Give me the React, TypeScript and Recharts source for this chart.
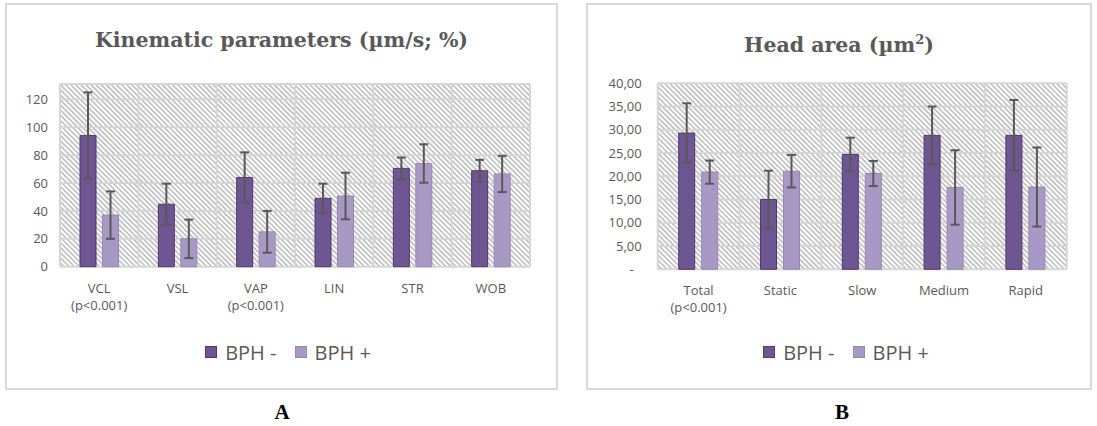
import { BarChart, Bar, XAxis, YAxis, CartesianGrid, ErrorBar, ReferenceLine } from 'recharts';

// panel A: kinematic parameters (mean ± sd)
const kinCats = ['VCL', 'VSL', 'VAP', 'LIN', 'STR', 'WOB'];
const kinNotes = ['(p<0.001)', '', '(p<0.001)', '', '', ''];
const kinNeg = [94, 44.8, 64, 49, 70.5, 68.8];
const kinNegSd = [31, 14.7, 18, 10.5, 7.8, 7.8];
const kinPos = [37, 20, 25, 50.7, 74, 66.5];
const kinPosSd = [17, 13.8, 15, 16.7, 13.8, 13];
const kinTicks = [0, 20, 40, 60, 80, 100, 120];

// panel B: head area (mean ± sd)
const headCats = ['Total', 'Static', 'Slow', 'Medium', 'Rapid'];
const headNotes = ['(p<0.001)', '', '', '', ''];
const headNeg = [29.3, 15, 24.7, 28.8, 28.8];
const headNegSd = [6.4, 6.2, 3.6, 6.2, 7.6];
const headPos = [20.9, 21.1, 20.6, 17.6, 17.7];
const headPosSd = [2.5, 3.5, 2.7, 8, 8.5];
const headTicks = [0, 5, 10, 15, 20, 25, 30, 35, 40];

const seriesNames = ['BPH -', 'BPH +'];

const GREY = '#595959';
const GRID = '#d6d6d6';
const DARK = '#6f5592';
const DARK_EDGE = '#4e3a70';
const LIGHT = '#a899c4';
const LIGHT_EDGE = '#9886b8';
const SANS = '"Open Sans", sans-serif';

function rows(cats: string[], notes: string[], neg: number[], negSd: number[], pos: number[], posSd: number[]) {
  return cats.map((c, i) => ({ name: c, note: notes[i], neg: neg[i], negSd: negSd[i], pos: pos[i], posSd: posSd[i] }));
}

const kinData = rows(kinCats, kinNotes, kinNeg, kinNegSd, kinPos, kinPosSd);
const headData = rows(headCats, headNotes, headNeg, headNegSd, headPos, headPosSd);

function CatTick(props: any) {
  const { x, y, payload, notes } = props;
  const note = notes[payload.index];
  return (
    <g>
      <text x={x} y={y + 26} textAnchor="middle" fill={GREY} fontSize={13} fontFamily={SANS}>
        {payload.value}
      </text>
      {note ? (
        <text x={x} y={y + 43} textAnchor="middle" fill={GREY} fontSize={13} fontFamily={SANS}>
          {note}
        </text>
      ) : null}
    </g>
  );
}

function HeadYTick(props: any) {
  const { x, y, payload } = props;
  const v = payload.value;
  const label = v === 0 ? '-' : v.toFixed(2).replace('.', ',');
  return (
    <text x={v === 0 ? x - 8 : x} y={y} dy="0.355em" textAnchor="end" fill={GREY} fontSize={13} fontFamily={SANS}>
      {label}
    </text>
  );
}

function Hatch({ id }: { id: string }) {
  return (
    <defs>
      <pattern id={id} patternUnits="userSpaceOnUse" width={3.6} height={3.6} patternTransform="rotate(-45)">
        <rect width={3.6} height={3.6} fill="#ffffff" />
        <line x1={0.8} y1={0} x2={0.8} y2={3.6} stroke="#b8b8b8" strokeWidth={1.5} />
      </pattern>
    </defs>
  );
}

function boundaries(n: number) {
  return ({ offset }: any) => {
    const out: number[] = [];
    for (let i = 0; i <= n; i++) out.push(offset.left + (i * offset.width) / n);
    return out;
  };
}

function Legend({ cx }: { cx: number }) {
  const item = (color: string, edge: string, label: string) => (
    <div style={{ display: 'flex', alignItems: 'center', marginRight: 18 }}>
      <span style={{ width: 12, height: 12, background: color, border: `1px solid ${edge}`, boxSizing: 'border-box', marginRight: 8 }} />
      <span>{label}</span>
    </div>
  );
  return (
    <div
      style={{
        position: 'absolute', left: cx - 150, top: 338, width: 300, height: 28,
        display: 'flex', justifyContent: 'center', alignItems: 'center',
        fontFamily: SANS, fontSize: 20, color: GREY, paddingLeft: 18, boxSizing: 'border-box',
      }}
    >
      {item(DARK, DARK_EDGE, seriesNames[0])}
      {item(LIGHT, LIGHT_EDGE, seriesNames[1])}
    </div>
  );
}

function Series() {
  return [
    <Bar key="neg" dataKey="neg" name={seriesNames[0]} fill={DARK} stroke={DARK_EDGE} strokeWidth={1} isAnimationActive={false}>
      <ErrorBar dataKey="negSd" width={4.5} stroke={GREY} strokeWidth={2} />
    </Bar>,
    <Bar key="pos" dataKey="pos" name={seriesNames[1]} fill={LIGHT} stroke={LIGHT_EDGE} strokeWidth={1} isAnimationActive={false}>
      <ErrorBar dataKey="posSd" width={4.5} stroke={GREY} strokeWidth={2} />
    </Bar>,
  ];
}

const panelStyle = (left: number, width: number): React.CSSProperties => ({
  position: 'absolute', left, top: 3, width, height: 387,
  border: '2px solid #d9d9d9', boxSizing: 'border-box', background: '#fff',
});

const titleStyle = (left: number, width: number): React.CSSProperties => ({
  position: 'absolute', left, top: 28, width, textAlign: 'center',
  fontFamily: '"DejaVu Serif", serif', fontWeight: 'bold', fontSize: 20.5, lineHeight: '24px', color: GREY,
});

const letterStyle = (cx: number): React.CSSProperties => ({
  position: 'absolute', left: cx - 20, width: 40, top: 400, textAlign: 'center',
  fontFamily: '"Liberation Serif", serif', fontWeight: 'bold', fontSize: 21, lineHeight: '24px', color: '#000',
});

export default function App() {
  return (
    <div style={{ position: 'absolute', left: 0, top: 0, width: 1097, height: 426, background: '#fff', overflow: 'hidden' }}>
      <div style={panelStyle(5, 553)} />
      <div style={panelStyle(586, 506)} />

      <div style={titleStyle(5, 553)}>Kinematic parameters (µm/s; %)</div>
      <div style={titleStyle(586, 506)}>
        Head area (µm<sup style={{ fontSize: 13 }}>2</sup>)
      </div>

      <div style={{ position: 'absolute', left: 0, top: 0 }}>
        <BarChart width={557} height={330} data={kinData} margin={{ top: 84, right: 27, bottom: 23.3, left: 10 }} barSize={16} barGap={6.5}>
          <Hatch id="hatchA" />
          <CartesianGrid
            fill="url(#hatchA)"
            fillOpacity={1}
            stroke={GRID}
            strokeWidth={2}
            verticalCoordinatesGenerator={boundaries(kinCats.length)}
          />
          <ReferenceLine y={131} stroke={GRID} strokeWidth={2} />
          <XAxis dataKey="name" axisLine={false} tickLine={false} tickSize={0} tickMargin={0} height={40} interval={0} tick={<CatTick notes={kinNotes} />} />
          <YAxis
            width={50}
            domain={[0, 131]}
            ticks={kinTicks}
            axisLine={false}
            tickLine={false}
            tickSize={0}
            tickMargin={12}
            tick={{ fill: GREY, fontSize: 13, fontFamily: SANS }}
          />
          {Series()}
        </BarChart>
      </div>

      <div style={{ position: 'absolute', left: 580, top: 0 }}>
        <BarChart width={517} height={330} data={headData} margin={{ top: 83.3, right: 30.3, bottom: 20.7, left: 27.7 }} barSize={16} barGap={7}>
          <Hatch id="hatchB" />
          <CartesianGrid
            fill="url(#hatchB)"
            fillOpacity={1}
            stroke={GRID}
            strokeWidth={2}
            verticalCoordinatesGenerator={boundaries(headCats.length)}
          />
          <XAxis dataKey="name" axisLine={false} tickLine={false} tickSize={0} tickMargin={0} height={40} interval={0} tick={<CatTick notes={headNotes} />} />
          <YAxis
            width={50}
            domain={[0, 40]}
            ticks={headTicks}
            axisLine={false}
            tickLine={false}
            tickSize={0}
            tickMargin={16}
            tick={<HeadYTick />}
          />
          {Series()}
        </BarChart>
      </div>

      <Legend cx={288} />
      <Legend cx={846} />

      <div style={letterStyle(282)}>A</div>
      <div style={letterStyle(842)}>B</div>
    </div>
  );
}
